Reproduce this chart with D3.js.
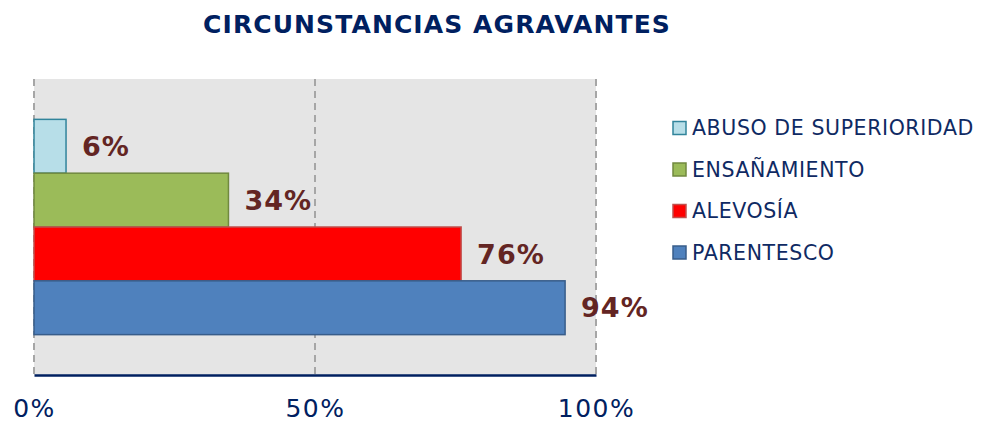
<!DOCTYPE html>
<html>
<head>
<meta charset="utf-8">
<script src="https://cdn.jsdelivr.net/npm/d3@7"></script>
<style>
  body { margin: 0; background: #fff; }
  text { font-family: 'DejaVu Sans', Verdana, sans-serif; }
</style>
</head>
<body>
<script>
const categories = ['ABUSO DE SUPERIORIDAD', 'ENSAÑAMIENTO', 'ALEVOSÍA', 'PARENTESCO'];
const values = [0.057, 0.346, 0.76, 0.945];
const labels = ['6%', '34%', '76%', '94%'];
const tickValues = [0, 0.5, 1];

const fills = ['#b7dee8', '#9bbb59', '#ff0000', '#4f81bd'];
const strokes = ['#31849b', '#71893f', '#c0504d', '#385d8a'];

const margin = { top: 79, left: 34 };
const width = 562;
const height = 296;

const svg = d3.select('body')
  .append('svg')
  .attr('width', 983)
  .attr('height', 423);

svg.append('text')
  .attr('x', 437)
  .attr('y', 33)
  .style('text-anchor', 'middle')
  .style('font-size', '25px')
  .style('letter-spacing', '1.1px')
  .style('font-weight', 'bold')
  .style('fill', '#002060')
  .text('CIRCUNSTANCIAS AGRAVANTES');

const g = svg.append('g')
  .attr('transform', `translate(${margin.left}, ${margin.top})`);

const xScale = d3.scaleLinear().domain([0, 1]).range([0, width]);
const yScale = d3.scaleBand()
  .domain(categories)
  .range([0, height])
  .paddingInner(0)
  .paddingOuter(0.75);

g.append('rect')
  .attr('width', width)
  .attr('height', height)
  .style('fill', '#e5e5e5');

g.selectAll('.grid')
  .data(tickValues)
  .join('line')
  .attr('class', 'grid')
  .attr('x1', (d) => xScale(d))
  .attr('x2', (d) => xScale(d))
  .attr('y1', 0)
  .attr('y2', height)
  .style('stroke', '#a6a6a6')
  .style('stroke-width', 2)
  .style('stroke-dasharray', '7,5');

g.selectAll('.bar')
  .data(categories)
  .join('rect')
  .attr('class', 'bar')
  .attr('x', 0)
  .attr('y', (d) => yScale(d))
  .attr('width', (d, i) => xScale(values[i]))
  .attr('height', yScale.bandwidth())
  .style('fill', (d, i) => fills[i])
  .style('stroke', (d, i) => strokes[i])
  .style('stroke-width', 1.5);

g.selectAll('.lbl')
  .data(categories)
  .join('text')
  .attr('class', 'lbl')
  .attr('x', (d, i) => xScale(values[i]) + 16)
  .attr('y', (d) => yScale(d) + yScale.bandwidth() / 2)
  .attr('dy', '0.36em')
  .style('font-size', '27px')
  .style('letter-spacing', '1px')
  .style('font-weight', 'bold')
  .style('fill', '#632523')
  .text((d, i) => labels[i]);

const xAxis = d3.axisBottom(xScale)
  .tickValues(tickValues)
  .tickSize(0)
  .tickPadding(24)
  .tickFormat(d3.format('.0%'));

const ax = g.append('g')
  .attr('transform', `translate(0, ${height})`)
  .call(xAxis);

ax.select('.domain')
  .style('stroke', '#002060')
  .style('stroke-width', 2.5);

ax.selectAll('text')
  .style('font-family', "'DejaVu Sans', Verdana, sans-serif")
  .style('font-size', '25px')
  .style('letter-spacing', '1.5px')
  .style('fill', '#002060');

const legend = svg.append('g')
  .attr('transform', 'translate(673, 128)');

legend.selectAll('rect')
  .data(categories)
  .join('rect')
  .attr('x', 0)
  .attr('y', (d, i) => i * 41.5 - 6.5)
  .attr('width', 13)
  .attr('height', 13)
  .style('fill', (d, i) => fills[i])
  .style('stroke', (d, i) => strokes[i])
  .style('stroke-width', 1.5);

legend.selectAll('text')
  .data(categories)
  .join('text')
  .attr('x', 19)
  .attr('y', (d, i) => i * 41.5)
  .attr('dy', '0.36em')
  .style('font-size', '20.5px')
  .style('letter-spacing', '0.6px')
  .style('fill', '#0f2a63')
  .text((d) => d);
</script>
</body>
</html>
